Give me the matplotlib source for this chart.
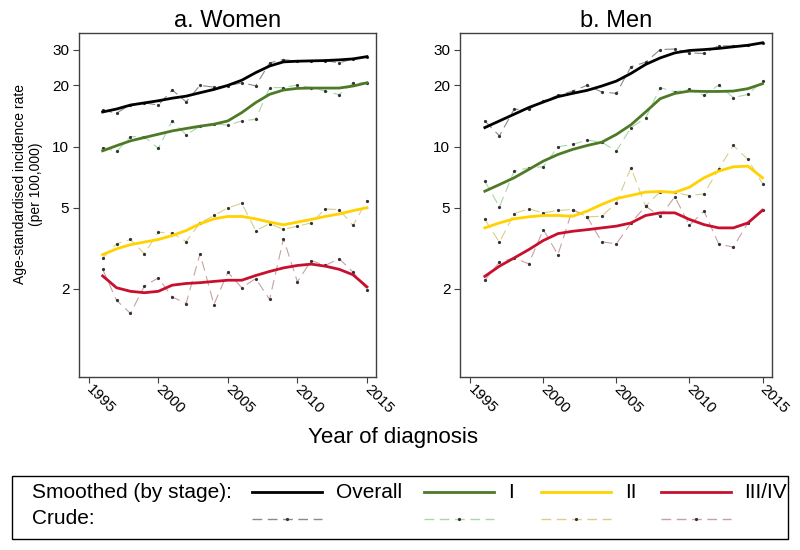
import matplotlib
import matplotlib.pyplot as plt
from matplotlib.lines import Line2D
from matplotlib.patches import Rectangle
from matplotlib.ticker import FixedLocator, FixedFormatter, NullLocator
import numpy as np

plt.switch_backend('agg')
plt.rcParams['font.family'] = ['Liberation Sans', 'DejaVu Sans']
plt.rcParams['lines.scale_dashes'] = False

# years of diagnosis
years = list(range(1996, 2016))

# women, smoothed and crude rates per 100,000
w_all_s = [14.8, 15.3, 16.0, 16.4, 16.8, 17.3, 17.7, 18.4, 19.1, 20.0,
           21.2, 23.1, 24.9, 26.1, 26.3, 26.4, 26.5, 26.7, 27.0, 27.7]
w_all_c = [15.1, 14.6, 16.1, 16.4, 16.0, 19.0, 16.6, 20.0, 19.6, 19.9,
           20.6, 19.9, 25.8, 26.8, 26.3, 26.5, 26.5, 25.8, 27.0, 27.7]
w_i_s = [9.53, 10.1, 10.67, 11.08, 11.5, 11.94, 12.27, 12.6, 12.88, 13.37,
         14.69, 16.45, 18.07, 18.97, 19.33, 19.4, 19.4, 19.4, 19.85, 20.6]
w_i_c = [9.89, 9.46, 11.2, 11.2, 9.79, 13.37, 11.42, 12.6, 12.98, 12.73,
         13.37, 13.63, 19.5, 19.5, 20.1, 19.5, 18.76, 18.0, 20.6, 20.6]
w_ii_s = [2.94, 3.14, 3.29, 3.39, 3.49, 3.65, 3.86, 4.17, 4.41, 4.53,
          4.53, 4.41, 4.25, 4.12, 4.25, 4.38, 4.53, 4.66, 4.84, 5.0]
w_ii_c = [2.83, 3.32, 3.49, 2.97, 3.79, 3.75, 3.41, 4.21, 4.58, 4.99,
          5.26, 3.86, 4.17, 3.91, 4.06, 4.21, 4.93, 4.90, 4.09, 5.42]
w_iii_s = [2.31, 2.02, 1.94, 1.91, 1.94, 2.08, 2.12, 2.14, 2.17, 2.20,
           2.20, 2.32, 2.43, 2.53, 2.60, 2.64, 2.58, 2.49, 2.34, 2.04]
w_iii_c = [2.49, 1.75, 1.51, 2.06, 2.26, 1.82, 1.69, 2.97, 1.67, 2.41,
           2.02, 2.24, 1.77, 3.52, 2.16, 2.75, 2.60, 2.81, 2.41, 1.98]

# men
m_all_s = [12.4, 13.37, 14.42, 15.55, 16.56, 17.6, 18.27, 18.9, 19.85, 21.0,
           22.9, 25.35, 27.3, 28.9, 29.7, 30.0, 30.4, 30.96, 31.5, 32.4]
m_all_c = [13.37, 11.29, 15.25, 15.25, 16.76, 17.86, 18.76, 20.0, 18.55, 18.27,
           24.7, 26.0, 30.0, 30.2, 28.9, 28.7, 31.4, 31.2, 31.6, 32.4]
m_i_s = [6.03, 6.5, 7.02, 7.71, 8.48, 9.14, 9.68, 10.12, 10.51, 11.47,
         12.8, 14.8, 17.2, 18.26, 18.75, 18.67, 18.67, 18.75, 19.27, 20.38]
m_i_c = [6.75, 5.05, 7.57, 7.86, 7.95, 9.98, 10.24, 10.76, 10.51, 9.5,
         12.4, 13.8, 19.47, 18.6, 19.1, 17.85, 20.07, 17.4, 18.06, 20.99]
m_ii_s = [3.98, 4.21, 4.41, 4.51, 4.58, 4.58, 4.54, 4.81, 5.19, 5.55,
          5.75, 5.97, 6.01, 5.95, 6.31, 7.02, 7.57, 7.95, 8.01, 7.02]
m_ii_c = [4.38, 3.38, 4.68, 4.94, 4.72, 4.85, 4.9, 4.51, 4.54, 5.3,
          7.86, 5.09, 6.0, 5.95, 5.74, 5.85, 7.77, 10.13, 8.64, 6.58]
m_iii_s = [2.30, 2.58, 2.83, 3.11, 3.45, 3.73, 3.83, 3.90, 3.98, 4.06,
           4.21, 4.58, 4.72, 4.72, 4.38, 4.13, 3.98, 3.98, 4.21, 4.86]
m_iii_c = [2.20, 2.70, 2.83, 2.65, 3.90, 2.94, 4.90, 4.51, 3.40, 3.32,
           4.21, 5.09, 4.54, 5.66, 4.10, 4.81, 3.32, 3.20, 4.21, 4.90]

stages = ['Overall', 'I', 'II', 'III/IV']
smooth_cols = ['#000000', '#4E7A27', '#FFD200', '#C8102E']
crude_cols = ['#8A8A8A', '#A8D8A8', '#D8CF8A', '#C9A0A0']
yticks = [2, 5, 10, 20, 30]

fig = plt.figure(figsize=(8, 5.5), dpi=100)
W, H = 800., 550.

def px(x0, y0, x1, y1):
    # pixel box -> figure fraction rect
    return [x0 / W, 1 - y1 / H, (x1 - x0) / W, (y1 - y0) / H]

panels = [
    ('a. Women', px(79, 33, 376, 377),
     [w_all_s, w_i_s, w_ii_s, w_iii_s], [w_all_c, w_i_c, w_ii_c, w_iii_c]),
    ('b. Men', px(460, 33, 772, 377),
     [m_all_s, m_i_s, m_ii_s, m_iii_s], [m_all_c, m_i_c, m_ii_c, m_iii_c]),
]

for title, rect, sm, cr in panels:
    ax = fig.add_axes(rect)
    for k in range(4):
        ax.plot(years, cr[k], color=crude_cols[k], lw=0.8, ls=(0, (7, 4)),
                marker='o', ms=1.3, mfc='#333333', mec='#333333', zorder=2)
    for k in range(4):
        ax.plot(years, sm[k], color=smooth_cols[k], lw=2.0, zorder=3)
    ax.set_yscale('log')
    ax.set_ylim(0.735, 36.2)
    ax.set_xlim(1994.3, 2015.65)
    ax.yaxis.set_major_locator(FixedLocator(yticks))
    ax.yaxis.set_major_formatter(FixedFormatter([str(t) for t in yticks]))
    ax.yaxis.set_minor_locator(NullLocator())
    ax.set_xticks([1995, 2000, 2005, 2010, 2015])
    ax.set_xticklabels(['1995', '2000', '2005', '2010', '2015'],
                       rotation=-45, ha='left', va='center',
                       rotation_mode='anchor')
    ax.tick_params(direction='out', length=4, width=0.8, color='#404040',
                   labelsize=11, pad=3)
    for s in ax.spines.values():
        s.set_color('#404040')
        s.set_linewidth(1.0)
    ax.set_title(title, fontsize=17, pad=4)

fig.text(28 / W, 1 - 184 / H,
         'Age-standardised incidence rate\n(per 100,000)',
         rotation=90, ha='center', va='center', fontsize=10,
         multialignment='center', linespacing=1.1)
fig.text(393 / W, 1 - 438 / H, 'Year of diagnosis', ha='center',
         va='center', fontsize=16)

# legend box
fig.add_artist(Rectangle((12 / W, 1 - 539 / H), 776 / W, 63 / H,
                         transform=fig.transFigure, fill=False,
                         edgecolor='#000000', lw=1.0))
row1 = 1 - 492 / H
row2 = 1 - 519 / H
fig.text(32 / W, row1, 'Smoothed (by stage):', fontsize=15,
         va='center', ha='left')
fig.text(32 / W, row2, 'Crude:', fontsize=15, va='center', ha='left')
line_x = [(252, 322), (424, 494), (541, 611), (661, 731)]
text_x = [336, 508, 625, 744]
for k in range(4):
    x0, x1 = line_x[k]
    fig.add_artist(Line2D([x0 / W, x1 / W], [row1, row1],
                          transform=fig.transFigure,
                          color=smooth_cols[k], lw=2.0))
    fig.add_artist(Line2D([x0 / W, x1 / W], [row2, row2],
                          transform=fig.transFigure, color=crude_cols[k],
                          lw=1.0, ls=(0, (7, 4))))
    fig.add_artist(Line2D([(x0 + x1) / 2 / W], [row2],
                          transform=fig.transFigure, marker='o', ms=1.3,
                          color='#333333', ls='none'))
    fig.text(text_x[k] / W, row1, stages[k], fontsize=15, va='center',
             ha='left')

plt.savefig('out.png', dpi=100)
